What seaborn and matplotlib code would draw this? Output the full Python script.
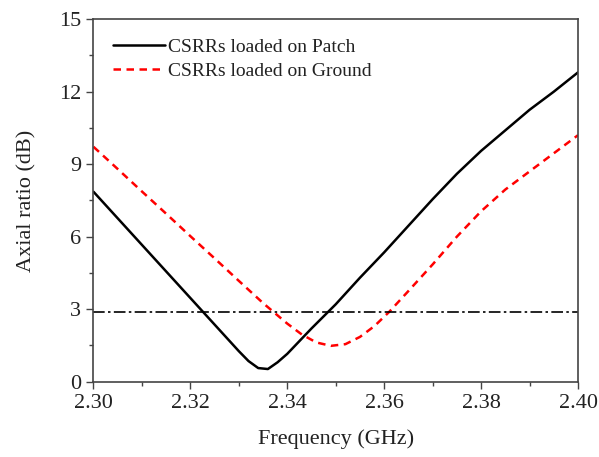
import numpy as np
import pandas as pd
import matplotlib
matplotlib.use("Agg")
import matplotlib.pyplot as plt
import seaborn as sns
from matplotlib.ticker import MultipleLocator

# values
freq_patch = [2.300, 2.305, 2.310, 2.315, 2.320, 2.325, 2.330, 2.332, 2.334, 2.336,
              2.338, 2.340, 2.345, 2.350, 2.355, 2.360, 2.365, 2.370, 2.375, 2.380,
              2.385, 2.390, 2.395, 2.400]
ar_patch = [7.86, 6.76, 5.66, 4.56, 3.46, 2.36, 1.26, 0.85, 0.56, 0.52,
            0.80, 1.15, 2.20, 3.20, 4.30, 5.35, 6.45, 7.55, 8.60, 9.55,
            10.40, 11.25, 12.00, 12.80]

freq_ground = [2.300, 2.305, 2.310, 2.315, 2.320, 2.325, 2.330, 2.335, 2.340, 2.343,
               2.346, 2.349, 2.352, 2.355, 2.358, 2.361, 2.365, 2.370, 2.375, 2.380,
               2.385, 2.390, 2.395, 2.400]
ar_ground = [9.72, 8.80, 7.87, 6.95, 6.02, 5.10, 4.17, 3.25, 2.40, 1.95,
             1.62, 1.48, 1.55, 1.85, 2.30, 2.88, 3.75, 4.85, 6.00, 7.05,
             7.95, 8.70, 9.45, 10.20]

ar_limit = 2.9

sns.set_style("ticks")
plt.rcParams['font.family'] = ['Liberation Serif', 'DejaVu Serif']

fig = plt.figure(figsize=(5.99, 4.57), dpi=100)
ax = fig.add_axes([0.156, 0.165, 0.809, 0.793])

patch = pd.DataFrame({"f": freq_patch, "ar": ar_patch})
ground = pd.DataFrame({"f": freq_ground, "ar": ar_ground})

sns.lineplot(data=patch, x="f", y="ar", ax=ax, color="black", linewidth=1.8,
             label="CSRRs loaded on Patch")
sns.lineplot(data=ground, x="f", y="ar", ax=ax, color="red", linewidth=1.8,
             linestyle=(0, (3, 2.2)), label="CSRRs loaded on Ground")
ax.axhline(ar_limit, color="black", linewidth=1.2, linestyle=(0, (7, 2, 1.5, 2)))

ax.set_xlim(2.30, 2.40)
ax.set_ylim(0, 15)
ax.xaxis.set_major_locator(MultipleLocator(0.02))
ax.xaxis.set_minor_locator(MultipleLocator(0.01))
ax.yaxis.set_major_locator(MultipleLocator(3))
ax.yaxis.set_minor_locator(MultipleLocator(1.5))
ax.set_xticklabels([f"{v:.2f}" for v in ax.get_xticks()])
ax.tick_params(which="major", direction="out", length=5, width=1, labelsize=16,
               colors="#444444", labelcolor="#222222", pad=4)
ax.tick_params(which="minor", direction="out", length=3, width=1, colors="#444444")
for s in ax.spines.values():
    s.set_color("#444444")
    s.set_linewidth(1.2)

ax.set_xlabel("Frequency (GHz)", fontsize=16, labelpad=12, color="#222222")
ax.set_ylabel("Axial ratio (dB)", fontsize=16, labelpad=16, color="#222222")

ax.legend(loc="upper left", frameon=False, fontsize=14, handlelength=2.7,
          handletextpad=0.15, borderaxespad=0.6, borderpad=0.4, labelspacing=0.3,
          labelcolor="#222222")

plt.savefig("out.png", dpi=100)
